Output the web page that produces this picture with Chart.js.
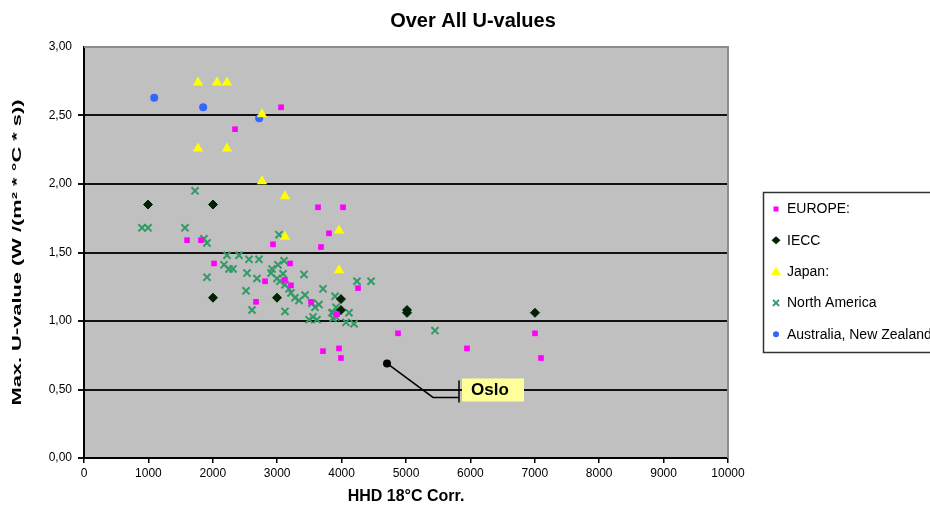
<!DOCTYPE html>
<html>
<head>
<meta charset="utf-8">
<script src="https://cdn.jsdelivr.net/npm/chart.js@4.4.0/dist/chart.umd.min.js"></script>
<style>
html,body{margin:0;padding:0;background:#fff;}
#wrap{position:relative;width:930px;height:506px;}
</style>
</head>
<body>
<div id="wrap"><canvas id="c" width="930" height="506"></canvas></div>
<script>
// ---- data ----
const xTicks = [0,1000,2000,3000,4000,5000,6000,7000,8000,9000,10000];
const yTicks = [0,0.5,1.0,1.5,2.0,2.5,3.0];
const seriesNames = ["EUROPE:", "IECC", "Japan:", "North America", "Australia, New Zealand"];

const europe = [[3060,2.56],[2345,2.40],[1600,1.59],[1817,1.59],[2935,1.56],[2019,1.42],[3199,1.42],[2811,1.29],[3214,1.26],[3120,1.30],[2671,1.14],[3634,1.83],[4022,1.83],[3804,1.64],[3680,1.54],[4255,1.24],[3525,1.14],[3929,1.05],[4876,0.91],[3711,0.78],[3960,0.80],[3990,0.73],[5947,0.80],[7003,0.91],[7096,0.73]];
const iecc = [[994,1.85],[2003,1.85],[2003,1.17],[2997,1.17],[3990,1.16],[3990,1.08],[5016,1.06],[5016,1.08],[7003,1.06]];
const japan = [[1770,2.74],[2065,2.74],[2220,2.74],[2764,2.51],[1770,2.26],[2220,2.26],[2764,2.02],[3121,1.91],[3121,1.615],[3960,1.66],[3960,1.37]];
const northAmerica = [[1724,1.95],[900,1.68],[994,1.68],[1568,1.68],[1863,1.60],[1910,1.57],[2220,1.48],[2407,1.48],[2562,1.45],[2717,1.45],[2174,1.41],[2252,1.38],[2314,1.38],[2531,1.35],[2686,1.31],[1910,1.32],[2516,1.22],[2609,1.08],[3121,1.07],[3028,1.63],[3106,1.44],[3012,1.41],[2919,1.38],[2904,1.35],[3090,1.345],[2997,1.31],[3043,1.29],[3121,1.265],[3183,1.235],[3214,1.205],[3276,1.17],[3339,1.15],[3432,1.19],[3416,1.34],[3711,1.235],[3540,1.13],[3587,1.10],[3649,1.12],[3494,1.01],[3556,1.03],[3618,1.01],[3898,1.18],[3866,1.06],[3913,1.03],[4239,1.29],[4457,1.29],[3913,1.10],[4115,1.06],[3850,1.06],[3866,1.02],[4068,0.99],[4193,0.98],[5450,0.93]];
const australia = [[1090,2.63],[1850,2.56],[2720,2.48]];
const oslo = [[4705,0.69]];
const osloLabel = "Oslo";

const toPts = a => a.map(p => ({x:p[0], y:p[1]}));

const styles = [
  {color:'#ff00ff', pointStyle:'rect', radius:4, borderWidth:0},
  {color:'#002200', pointStyle:'rectRot', radius:4.5, borderWidth:1},
  {color:'#ffff00', pointStyle:'triangle', radius:6, borderWidth:0},
  {color:'#339966', pointStyle:'crossRot', radius:5, borderWidth:2},
  {color:'#3366ff', pointStyle:'circle', radius:4, borderWidth:0}
];
const seriesData = [europe, iecc, japan, northAmerica, australia];

const datasets = seriesData.map((d,i) => ({
  label: seriesNames[i],
  data: toPts(d),
  pointStyle: styles[i].pointStyle,
  pointRadius: styles[i].radius,
  pointBorderWidth: styles[i].borderWidth,
  backgroundColor: styles[i].color,
  borderColor: styles[i].color,
  showLine: false
}));
datasets.push({label:'Oslo', data: toPts(oslo), pointStyle:'circle', pointRadius:4, backgroundColor:'#000', borderColor:'#000', pointBorderWidth:0, showLine:false});

const fontFam = "'Liberation Sans', Arial, sans-serif";

const decor = {
  id:'decor',
  beforeDraw(chart){
    const {ctx, chartArea:a} = chart;
    ctx.save();
    ctx.fillStyle = '#c0c0c0';
    ctx.fillRect(a.left, a.top, a.right-a.left, a.bottom-a.top);
    ctx.restore();
  },
  afterDatasetsDraw(chart){
    const {ctx, chartArea:a, scales:{x,y}} = chart;
    ctx.save();
    ctx.strokeStyle = '#8c8c8c'; ctx.lineWidth = 2;
    ctx.beginPath(); ctx.moveTo(a.left, a.top); ctx.lineTo(a.right, a.top); ctx.lineTo(a.right, a.bottom); ctx.stroke();
    // Oslo annotation
    const px = x.getPixelForValue(oslo[0][0]), py = y.getPixelForValue(oslo[0][1]);
    ctx.strokeStyle = '#000'; ctx.lineWidth = 1.5;
    ctx.beginPath(); ctx.moveTo(px, py); ctx.lineTo(px+46, py+34); ctx.lineTo(px+72, py+34); ctx.stroke();
    ctx.beginPath(); ctx.moveTo(px+72, py+17); ctx.lineTo(px+72, py+39); ctx.stroke();
    ctx.fillStyle = '#ffff99';
    ctx.fillRect(px+75, py+15, 62, 23);
    ctx.fillStyle = '#000';
    ctx.font = "bold 17px " + fontFam;
    ctx.textBaseline = 'middle'; ctx.textAlign = 'left';
    ctx.fillText(osloLabel, px+84, py+27);
    ctx.restore();
  },
  afterDraw(chart){
    const {ctx, chartArea:a} = chart;
    ctx.save();
    ctx.fillStyle = '#000';
    ctx.font = "bold 20px " + fontFam;
    ctx.textAlign = 'center'; ctx.textBaseline = 'middle';
    ctx.fillText('Over All U-values', 473, 21);
    const yt = 'Max. U-value (W /(m² * °C * s))';
    ctx.font = "bold 12px " + fontFam;
    const w = ctx.measureText(yt).width;
    ctx.translate(18, (a.top+a.bottom)/2);
    ctx.rotate(-Math.PI/2);
    ctx.scale(306/w, 1);
    ctx.fillText(yt, 0, 0);
    ctx.restore();

    // legend
    ctx.save();
    const lx = 763, ly = 192;
    ctx.strokeStyle = '#333'; ctx.lineWidth = 1.5;
    ctx.strokeRect(lx+0.5, ly+0.5, 200, 160);
    ctx.font = "14px " + fontFam;
    ctx.textAlign = 'left'; ctx.textBaseline = 'middle';
    seriesNames.forEach((n,i) => {
      const cy = ly + 17 + i*31.3, cx = lx + 13;
      const s = styles[i];
      ctx.fillStyle = s.color; ctx.strokeStyle = s.color;
      ctx.beginPath();
      if (s.pointStyle === 'rect') { ctx.fillRect(cx-2.5, cy-2.5, 5, 5); }
      else if (s.pointStyle === 'rectRot') { ctx.moveTo(cx, cy-4); ctx.lineTo(cx+4.5, cy); ctx.lineTo(cx, cy+4); ctx.lineTo(cx-4.5, cy); ctx.closePath(); ctx.fill(); }
      else if (s.pointStyle === 'triangle') { ctx.moveTo(cx, cy-5); ctx.lineTo(cx+5, cy+3.5); ctx.lineTo(cx-5, cy+3.5); ctx.closePath(); ctx.fill(); }
      else if (s.pointStyle === 'crossRot') { ctx.lineWidth = 2; ctx.moveTo(cx-3, cy-3); ctx.lineTo(cx+3, cy+3); ctx.moveTo(cx+3, cy-3); ctx.lineTo(cx-3, cy+3); ctx.stroke(); }
      else { ctx.arc(cx, cy, 3, 0, Math.PI*2); ctx.fill(); }
      ctx.fillStyle = '#000';
      ctx.fillText(n, lx + 24, cy + 0.5);
    });
    ctx.restore();
  }
};

new Chart(document.getElementById('c'), {
  type: 'scatter',
  data: { datasets },
  options: {
    responsive: false,
    animation: false,
    layout: { padding: { top: 47, right: 202, left: 0, bottom: 0 } },
    plugins: { legend: { display: false }, title: { display: false }, tooltip: { enabled: false } },
    scales: {
      x: {
        type: 'linear', min: 0, max: 10000,
        afterBuildTicks: s => { s.ticks = xTicks.map(v => ({value:v})); },
        afterFit: s => { s.height = 48; },
        grid: { drawOnChartArea: false, drawTicks: true, tickLength: 5, color: '#000', lineWidth: 1.5 },
        border: { display: true, color: '#000', width: 2 },
        ticks: { color: '#000', font: { size: 12, family: fontFam }, padding: 3, maxRotation: 0, autoSkip: false,
          callback: v => String(v) },
        title: { display: true, text: 'HHD 18°C Corr.', color: '#000', font: { size: 16, weight: 'bold', family: fontFam }, padding: { top: 0, bottom: 0 } }
      },
      y: {
        type: 'linear', min: 0, max: 3,
        afterBuildTicks: s => { s.ticks = yTicks.map(v => ({value:v})); },
        afterFit: s => { s.width = 84; },
        grid: {
          drawOnChartArea: true, drawTicks: true, tickLength: 6,
          color: c => (c.tick && c.tick.value === 3) ? 'rgba(0,0,0,0)' : '#111',
          lineWidth: 2
        },
        border: { display: true, color: '#000', width: 2 },
        ticks: { color: '#000', font: { size: 12, family: fontFam }, padding: 6, autoSkip: false,
          callback: v => Number(v).toFixed(2).replace('.', ',') }
      }
    }
  },
  plugins: [decor]
});
</script>
</body>
</html>
